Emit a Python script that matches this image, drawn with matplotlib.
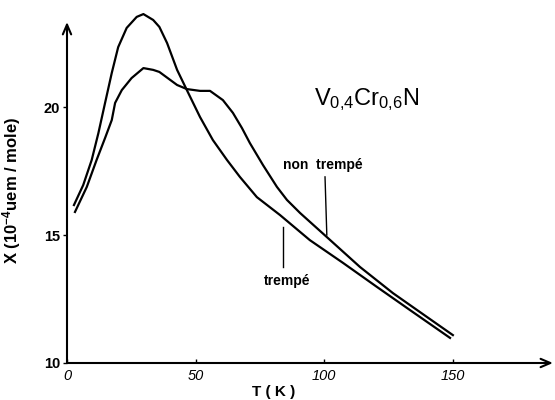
#Importing necessary modules
import matplotlib
matplotlib.use("Agg")
import matplotlib.pyplot as plt

#fonts
plt.rcParams["font.family"] = ["Liberation Sans", "DejaVu Sans"]
plt.rcParams["mathtext.fontset"] = "custom"
plt.rcParams["mathtext.rm"] = "Liberation Sans"
plt.rcParams["mathtext.it"] = "Liberation Sans:italic"
plt.rcParams["mathtext.bf"] = "Liberation Sans:bold"

#susceptibility, quenched sample (trempe)
t_trempe = [2.7, 6.3, 9.6, 12.2, 14.8, 17.4, 19.9, 23.2, 27.1, 29.7, 33.5, 35.9, 38.9, 42.8, 46.6,
            51.7, 56.7, 62.2, 67.2, 73.8, 82.8, 94.4, 107.3, 120.5, 133.3, 148.9]
chi_trempe = [16.17, 16.95, 17.93, 18.98, 20.16, 21.33, 22.34, 23.09, 23.52, 23.63, 23.40, 23.13,
              22.50, 21.45, 20.66, 19.61, 18.71, 17.93, 17.27, 16.48, 15.78, 14.80, 13.91, 12.97,
              12.07, 10.98]

#susceptibility, non quenched sample (non trempe)
t_non = [3.1, 7.7, 11.5, 14.8, 17.4, 18.7, 21.3, 25.1, 29.7, 33.5, 35.9, 42.8, 46.6, 51.7, 55.6,
         60.6, 64.5, 68.0, 71.1, 76.2, 81.6, 85.5, 90.6, 101.0, 113.9, 126.7, 139.9, 150.0]
chi_non = [15.90, 16.88, 17.93, 18.79, 19.49, 20.16, 20.66, 21.13, 21.52, 21.45, 21.37, 20.86,
           20.70, 20.63, 20.63, 20.27, 19.77, 19.18, 18.59, 17.73, 16.88, 16.37, 15.86, 14.92,
           13.75, 12.73, 11.80, 11.09]

xticks = [0, 50, 100, 150]
yticks = [10, 15, 20]

#creates the figure
fig = plt.figure(figsize=(5.55, 4.0), dpi=100)
ax = fig.add_axes([67 / 555, 37 / 400, 488 / 555, 363 / 400])
ax.set_xlim(0, 189.7)
ax.set_ylim(10, 24.18)

#plots both curves
ax.plot(t_trempe, chi_trempe, color="black", lw=1.6)
ax.plot(t_non, chi_non, color="black", lw=1.6)

#axes with arrows instead of spines
for s in ax.spines.values():
    s.set_visible(False)
arrow = dict(arrowstyle="->,head_length=0.7,head_width=0.3", lw=1.5, color="black",
             shrinkA=0, shrinkB=0)
ax.annotate("", xy=(188.9, 10), xytext=(0, 10), arrowprops=arrow)
ax.annotate("", xy=(0, 23.32), xytext=(0, 10), arrowprops=arrow)

#ticks
ax.set_xticks(xticks)
ax.set_yticks(yticks)
ax.tick_params(axis="x", direction="in", length=3, width=1, pad=4, labelsize=10.5)
ax.tick_params(axis="y", direction="out", length=3, width=1, pad=2, labelsize=10.5)
for lab in ax.get_xticklabels():
    lab.set_fontstyle("italic")
for lab in ax.get_yticklabels():
    lab.set_fontweight("bold")

#axis labels
ax.set_xlabel("T ( K )", fontsize=11, fontweight="bold")
ax.xaxis.set_label_coords((274 - 67) / 488, -(385 - 363) / 363)
ax.set_ylabel(r"X (10$^{\mathbf{-4}}$uem / mole)", fontsize=12, fontweight="bold")
ax.yaxis.set_label_coords(-(67 - 23) / 488, (363 - 190) / 363)

#compound name and curve labels
ax.text(116.6, 20.27, r"$\mathrm{V_{0{,}4}Cr_{0{,}6}N}$", fontsize=17, ha="center", va="center")
ax.text(99.5, 17.73, "non  trempé", fontsize=10, fontweight="bold", ha="center", va="center")
ax.plot([100.3, 101.0], [17.27, 15.0], color="black", lw=1)
ax.text(85.5, 13.2, "trempé", fontsize=10, fontweight="bold", ha="center", va="center")
ax.plot([84.0, 84.0], [15.3, 13.75], color="black", lw=1)

plt.savefig("out.png", dpi=100)
